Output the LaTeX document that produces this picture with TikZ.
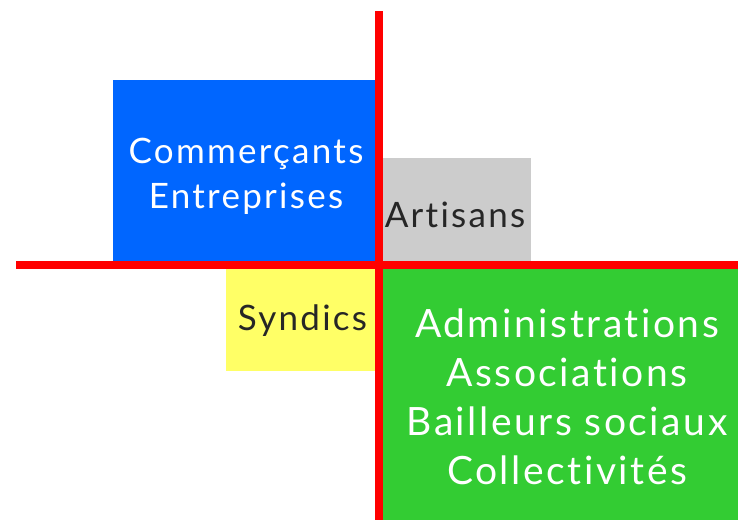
\documentclass[tikz,border=0pt]{standalone}
\usepackage{fontspec}
\setmainfont{Lato}[LetterSpace=6.5,Ligatures=NoCommon]
\usetikzlibrary{positioning}
\definecolor{bleuc}{RGB}{0,102,255}
\definecolor{grisc}{RGB}{204,204,204}
\definecolor{jaunec}{RGB}{255,255,102}
\definecolor{vertc}{RGB}{51,204,51}
\tikzset{
    boxn/.style = {rectangle, inner sep=0pt, outer sep=0pt, anchor=north west},
    boxb/.style = {boxn, fill=bleuc},
    boxg/.style = {boxn, fill=grisc},
    boxj/.style = {boxn, fill=jaunec},
    boxv/.style = {boxn, fill=vertc},
    txtn/.style = {inner sep=0pt, align=center, font=\fontsize{35}{45}\selectfont},
    txtw/.style = {txtn, text=white},
    txtk/.style = {txtn, text=black!85},
    txtv/.style = {txtw, font=\fontsize{39}{49}\selectfont},
    edger/.style = {-, line width=8pt, red}
}
\begin{document}
\begin{tikzpicture}[x=1pt,y=-1pt]
\useasboundingbox (0,0) rectangle (738,520);
%
\node[boxb, minimum width=266pt, minimum height=185pt] at (113,80) (comm) {};
\node[boxg, minimum width=152pt, minimum height=107pt] at (379,158) (arti) {};
\node[boxj, minimum width=153pt, minimum height=106pt] at (226,265) (synd) {};
\node[boxv, minimum width=376pt, minimum height=255pt] at (379,265) (admi) {};
%
\node[txtw, yshift=-4pt] at (comm.center) (commt) {Commerçants\\Entreprises};
\node[txtk, yshift=-3pt] at (arti.center) (artit) {Artisans};
\node[txtk, yshift=-3pt] at (synd.center) (syndt) {Syndics};
\node[txtv, yshift=-4pt] at (admi.center) (admit) {Administrations\\Associations\\Bailleurs sociaux\\Collectivités};
%
\coordinate (vtop) at (379,11);
\coordinate (vbot) at (379,520);
\coordinate (hleft) at (16,265);
\coordinate (hright) at (738,265);
\draw[edger] (vtop) -- (vbot);
\draw[edger] (hleft) -- (hright);
\end{tikzpicture}
\end{document}
